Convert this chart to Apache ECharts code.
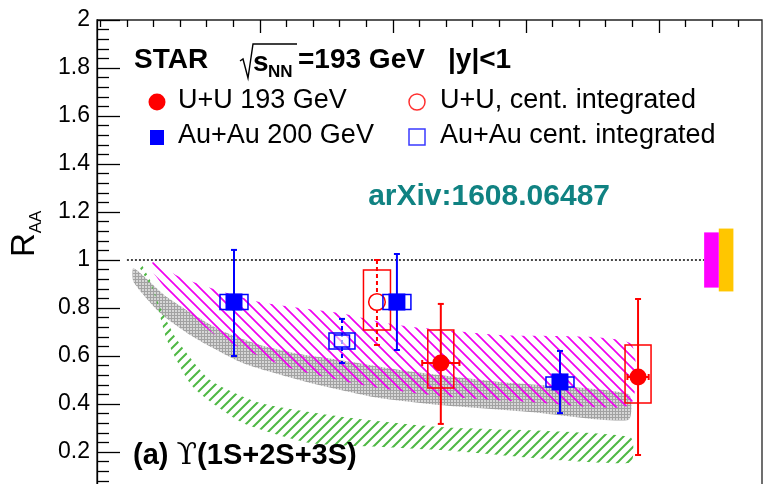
<!DOCTYPE html>
<html><head><meta charset="utf-8">
<script src="https://cdn.jsdelivr.net/npm/echarts@6/dist/echarts.min.js"></script>
<style>html,body{margin:0;padding:0;background:#fff}#main{width:764px;height:484px}</style>
</head><body><div id="main"></div>
<script>
// ---------------- data ----------------
// x: N_part, y: R_AA
const xMajorTicks = [100, 200, 300, 400];
const xMinorTicks = [-20, 0, 20, 40, 60, 80, 120, 140, 160, 180, 220, 240, 260, 280, 320, 340, 360, 380, 420, 440, 460];

// Au+Au 200 GeV (filled blue squares)
const auauNpart = [80.5, 203, 325.6];
const auauRaa = [0.825, 0.825, 0.492];
const auauStatUp = [0.217, 0.2, 0.129];
const auauStatDown = [0.225, 0.2, 0.13];
const auauSysUp = [0.031, 0.031, 0.021];
const auauSysDown = [0.031, 0.031, 0.021];

// U+U 193 GeV (filled red circles)
const uuNpart = [236, 384.3];
const uuRaa = [0.571, 0.5125];
const uuStatUp = [0.246, 0.325];
const uuStatDown = [0.254, 0.325];
const uuSysUp = [0.137, 0.133];
const uuSysDown = [0.104, 0.108];
const uuNpartErr = [14, 8];

// U+U centrality integrated (open red circle)
const uuIntNpart = [188];
const uuIntRaa = [0.825];
const uuIntStatUp = [0.175];
const uuIntStatDown = [0.179];
const uuIntSysUp = [0.133];
const uuIntSysDown = [0.117];

// Au+Au centrality integrated (open blue square)
const auauIntNpart = [161.7];
const auauIntRaa = [0.6625];
const auauIntStatUp = [0.092];
const auauIntStatDown = [0.092];
const auauIntSysUp = [0.033];
const auauIntSysDown = [0.033];

// global uncertainties around unity
const globalUncUU = 0.115;   // magenta
const globalUncAuAu = 0.131; // orange

// model bands
const grayUpX = [5, 30, 70, 100, 130, 160, 205, 280, 377];
const grayUpY = [0.967, 0.846, 0.708, 0.646, 0.608, 0.583, 0.542, 0.492, 0.442];
const grayLoX = [5, 25, 50, 87, 138, 190, 235, 303, 377];
const grayLoY = [0.908, 0.779, 0.679, 0.571, 0.488, 0.425, 0.396, 0.367, 0.333];

const magUpX = [19.6, 39.9, 70, 100.1, 130.1, 160.2, 190.3, 215.1, 280.5, 378.3];
const magUpY = [0.992, 0.929, 0.871, 0.825, 0.8, 0.779, 0.742, 0.721, 0.6875, 0.654];
const magLoX = [19.6, 39.9, 70, 122.6, 180.5, 235.4, 303.1, 378.3];
const magLoY = [0.95, 0.8125, 0.675, 0.55, 0.475, 0.433, 0.408, 0.396];

const grnUpX = [9.8, 17.3, 24.9, 37.7, 62.5, 100.1, 162.5, 235.4, 378.3];
const grnUpY = [0.992, 0.917, 0.804, 0.667, 0.5, 0.404, 0.346, 0.304, 0.2625];
const grnLoX = [9.8, 19.6, 30.1, 49.7, 87.3, 137.6, 190.3, 235.4, 378.3];
const grnLoY = [0.967, 0.875, 0.667, 0.471, 0.321, 0.2375, 0.221, 0.208, 0.154];

const unityLineX = [0, 434];

// ---------------- patterns ----------------
function hatch(color, size, dir, lw) {
  const c = document.createElement('canvas'); c.width = size; c.height = size;
  const g = c.getContext('2d'); g.strokeStyle = color; g.lineWidth = lw; g.lineCap = 'butt';
  g.beginPath();
  for (let k = -1; k <= 1; k++) {
    if (dir === 'back') { g.moveTo(k * size - 1, -1); g.lineTo(k * size + size + 1, size + 1); }
    else { g.moveTo(k * size - 1, size + 1); g.lineTo(k * size + size + 1, -1); }
  }
  g.stroke();
  return c;
}
function mesh() {
  const c = document.createElement('canvas'); c.width = 3; c.height = 3;
  const g = c.getContext('2d');
  g.fillStyle = '#d6d6d6'; g.fillRect(0, 0, 3, 3);
  g.fillStyle = '#a2a2a2';
  g.fillRect(0, 0, 3, 1); g.fillRect(0, 0, 1, 3);
  return c;
}
const magPattern = { image: hatch('#f000f0', 11, 'back', 1.7), repeat: 'repeat' };
const grnPattern = { image: hatch('#4fb845', 10, 'fwd', 2), repeat: 'repeat' };
const grayPattern = { image: mesh(), repeat: 'repeat' };

function bandSeries(name, ux, uy, lx, ly, fill) {
  return {
    type: 'custom', name, coordinateSystem: 'cartesian2d', xAxisIndex: 0, yAxisIndex: 0,
    data: [[ux[0], uy[0]]], silent: true, clip: true, z: 2,
    renderItem: function (params, api) {
      const pts = [];
      for (let i = 0; i < ux.length; i++) pts.push(api.coord([ux[i], uy[i]]));
      for (let i = lx.length - 1; i >= 0; i--) pts.push(api.coord([lx[i], ly[i]]));
      return { type: 'polygon', shape: { points: pts, smooth: 0.2 }, style: { fill: fill, stroke: null } };
    }
  };
}

function pointSeries(name, xs, ys, su, sd, yu, yd, opt) {
  return {
    type: 'custom', name, coordinateSystem: 'cartesian2d', xAxisIndex: 0, yAxisIndex: 0,
    data: xs.map((x, i) => [x, ys[i]]), z: 10, clip: false,
    renderItem: function (params, api) {
      const i = params.dataIndex;
      const x = api.value(0), y = api.value(1);
      const c = api.coord([x, y]);
      const top = api.coord([x, y + su[i]])[1];
      const bot = api.coord([x, y - sd[i]])[1];
      const sTop = api.coord([x, y + yu[i]])[1];
      const sBot = api.coord([x, y - yd[i]])[1];
      const col = opt.color;
      const ch = [];
      ch.push({ type: 'rect', shape: { x: c[0] - opt.boxHalf, y: sTop, width: 2 * opt.boxHalf, height: sBot - sTop },
        style: { fill: null, stroke: col, lineWidth: 1.5 } });
      const ls = { stroke: col, lineWidth: 2, lineDash: opt.dashed ? [4, 3] : null };
      ch.push({ type: 'line', shape: { x1: c[0], y1: top, x2: c[0], y2: bot }, style: ls });
      ch.push({ type: 'line', shape: { x1: c[0] - 3, y1: top, x2: c[0] + 3, y2: top }, style: { stroke: col, lineWidth: 2 } });
      ch.push({ type: 'line', shape: { x1: c[0] - 3, y1: bot, x2: c[0] + 3, y2: bot }, style: { stroke: col, lineWidth: 2 } });
      if (opt.xerr) {
        const xl = api.coord([x - opt.xerr[i], y])[0], xr = api.coord([x + opt.xerr[i], y])[0];
        ch.push({ type: 'line', shape: { x1: xl, y1: c[1], x2: xr, y2: c[1] }, style: { stroke: col, lineWidth: 2 } });
        ch.push({ type: 'line', shape: { x1: xl, y1: c[1] - 3, x2: xl, y2: c[1] + 3 }, style: { stroke: col, lineWidth: 2 } });
        ch.push({ type: 'line', shape: { x1: xr, y1: c[1] - 3, x2: xr, y2: c[1] + 3 }, style: { stroke: col, lineWidth: 2 } });
      }
      if (opt.marker === 'fcircle') ch.push({ type: 'circle', shape: { cx: c[0], cy: c[1], r: 8.5 }, style: { fill: col } });
      if (opt.marker === 'ocircle') ch.push({ type: 'circle', shape: { cx: c[0], cy: c[1], r: 8.3 }, style: { fill: '#fff', stroke: col, lineWidth: 1.5 } });
      if (opt.marker === 'fsquare') ch.push({ type: 'rect', shape: { x: c[0] - 8.5, y: c[1] - 8.5, width: 17, height: 17 }, style: { fill: col } });
      if (opt.marker === 'osquare') ch.push({ type: 'rect', shape: { x: c[0] - 7.5, y: c[1] - 6, width: 15, height: 12 }, style: { fill: 'rgba(255,255,255,0.6)', stroke: col, lineWidth: 1.5 } });
      return { type: 'group', children: ch };
    }
  };
}

const FONT = "'Liberation Sans', Arial, Helvetica, sans-serif";
function txt(text, x, y, size, opts) {
  opts = opts || {};
  return {
    type: 'text', x: x, y: y, rotation: opts.rot || 0, z: 100,
    style: {
      text: text, fill: opts.color || '#000',
      font: (opts.bold ? 'bold ' : '') + size + 'px ' + (opts.family || FONT),
      align: opts.align || 'left', verticalAlign: 'middle',
      textAlign: opts.align || 'left', textVerticalAlign: 'middle'
    }
  };
}

const chart = echarts.init(document.getElementById('main'), null, { renderer: 'canvas' });
const axisCol = '#000';
const option = {
  animation: false,
  backgroundColor: '#fff',
  grid: { left: 97, top: 20, right: 2, bottom: -16, show: true, borderColor: '#222', borderWidth: 1.3,
    containLabel: false, outerBoundsMode: 'none' },
  xAxis: [
    { type: 'value', min: -22.5, max: 477.5, show: false, gridIndex: 0 },
    { type: 'value', min: -22.5, max: 477.5, position: 'top', gridIndex: 0,
      axisLine: { show: false, onZero: false }, axisLabel: { show: false }, splitLine: { show: false },
      axisTick: { show: true, inside: true, length: 13, customValues: xMajorTicks, lineStyle: { color: axisCol, width: 1.3 } } },
    { type: 'value', min: -22.5, max: 477.5, position: 'top', gridIndex: 0,
      axisLine: { show: false, onZero: false }, axisLabel: { show: false }, splitLine: { show: false },
      axisTick: { show: true, inside: true, length: 7, customValues: xMinorTicks, lineStyle: { color: axisCol, width: 1.3 } } }
  ],
  yAxis: [{
    type: 'value', min: 0, max: 2, interval: 0.2, position: 'left',
    axisLine: { show: true, onZero: false, lineStyle: { color: axisCol, width: 1.3 } },
    axisTick: { show: true, inside: true, length: 23, lineStyle: { color: axisCol, width: 1.3 } },
    minorTick: { show: true, splitNumber: 5, length: 12, lineStyle: { color: axisCol, width: 1.3 } },
    splitLine: { show: false },
    axisLabel: { fontSize: 23, fontFamily: FONT, color: '#000', margin: 7,
      formatter: v => (v === 0 ? '' : String(+v.toFixed(1))) }
  }],
  series: [
    bandSeries('gray band', grayUpX, grayUpY, grayLoX, grayLoY, grayPattern),
    bandSeries('magenta band', magUpX, magUpY, magLoX, magLoY, magPattern),
    bandSeries('green band', grnUpX, grnUpY, grnLoX, grnLoY, grnPattern),
    {
      type: 'line', name: 'unity', data: unityLineX.map(x => [x, 1]), symbol: 'none', z: 3,
      lineStyle: { color: '#333', width: 1.8, type: [2, 2] }, silent: true
    },
    {
      type: 'custom', name: 'global', coordinateSystem: 'cartesian2d', data: [[445, 1]], z: 5, clip: false,
      renderItem: function (params, api) {
        const y = api.value(1);
        const oT = api.coord([445, y + globalUncAuAu]), oB = api.coord([456, y - globalUncAuAu]);
        const mT = api.coord([434, y + globalUncUU]), mB = api.coord([445, y - globalUncUU]);
        return { type: 'group', children: [
          { type: 'rect', shape: { x: oT[0], y: oT[1], width: oB[0] - oT[0], height: oB[1] - oT[1] }, style: { fill: '#ffc600' } },
          { type: 'rect', shape: { x: mT[0], y: mT[1], width: mB[0] - mT[0], height: mB[1] - mT[1] }, style: { fill: '#ff00ff' } }
        ] };
      }
    },
    pointSeries('U+U cent. integrated', uuIntNpart, uuIntRaa, uuIntStatUp, uuIntStatDown, uuIntSysUp, uuIntSysDown,
      { color: '#ff0000', boxHalf: 13.5, marker: 'ocircle', dashed: true }),
    pointSeries('Au+Au cent. integrated', auauIntNpart, auauIntRaa, auauIntStatUp, auauIntStatDown, auauIntSysUp, auauIntSysDown,
      { color: '#0000ff', boxHalf: 13, marker: 'osquare', dashed: true }),
    pointSeries('Au+Au 200 GeV', auauNpart, auauRaa, auauStatUp, auauStatDown, auauSysUp, auauSysDown,
      { color: '#0000ff', boxHalf: 14, marker: 'fsquare' }),
    pointSeries('U+U 193 GeV', uuNpart, uuRaa, uuStatUp, uuStatDown, uuSysUp, uuSysDown,
      { color: '#ff0000', boxHalf: 13, marker: 'fcircle', xerr: uuNpartErr })
  ],
  graphic: [
    txt('STAR', 134, 60, 28, { bold: true }),
    { type: 'polyline', z: 100, shape: { points: [[240, 61], [243, 59], [248, 78], [253, 44], [297, 44]] },
      style: { stroke: '#000', lineWidth: 1.4, fill: null } },
    txt('s', 253, 63, 28, { bold: true }),
    txt('NN', 268, 72, 17, { bold: true }),
    txt('=193 GeV', 298, 60, 28, { bold: true }),
    txt('|y|<1', 448, 60, 28, { bold: true }),
    { type: 'circle', z: 100, shape: { cx: 157, cy: 102, r: 8.5 }, style: { fill: '#ff0000' } },
    txt('U+U 193 GeV', 178, 101, 27),
    { type: 'rect', z: 100, shape: { x: 150, y: 130, width: 14, height: 15 }, style: { fill: '#0000ff' } },
    txt('Au+Au 200 GeV', 178, 136, 27),
    { type: 'circle', z: 100, shape: { cx: 417, cy: 102, r: 8 }, style: { fill: '#fff', stroke: '#ff3030', lineWidth: 1.5 } },
    txt('U+U, cent. integrated', 440, 101, 27),
    { type: 'rect', z: 100, shape: { x: 409, y: 129, width: 16, height: 16 }, style: { fill: '#fff', stroke: '#3a3aff', lineWidth: 1.5 } },
    txt('Au+Au cent. integrated', 440, 136, 27),
    txt('arXiv:1608.06487', 610, 197, 30, { bold: true, color: '#108282', align: 'right' }),
    {
      type: 'text', x: 133, y: 456, z: 100,
      style: {
        text: '{b|(a) }{g|ϒ}{b|(1S+2S+3S)}', verticalAlign: 'middle', textVerticalAlign: 'middle',
        rich: {
          b: { font: 'bold 29px ' + FONT, fill: '#000', color: '#000' },
          g: { font: '30px "DejaVu Serif", "Liberation Serif", serif', fill: '#000', color: '#000' }
        }
      }
    },
    txt('R', 25, 245, 33, { rot: Math.PI / 2, align: 'center' }),
    txt('AA', 36, 222, 17, { rot: Math.PI / 2, align: 'center' })
  ]
};
chart.setOption(option);
</script>
</body></html>
